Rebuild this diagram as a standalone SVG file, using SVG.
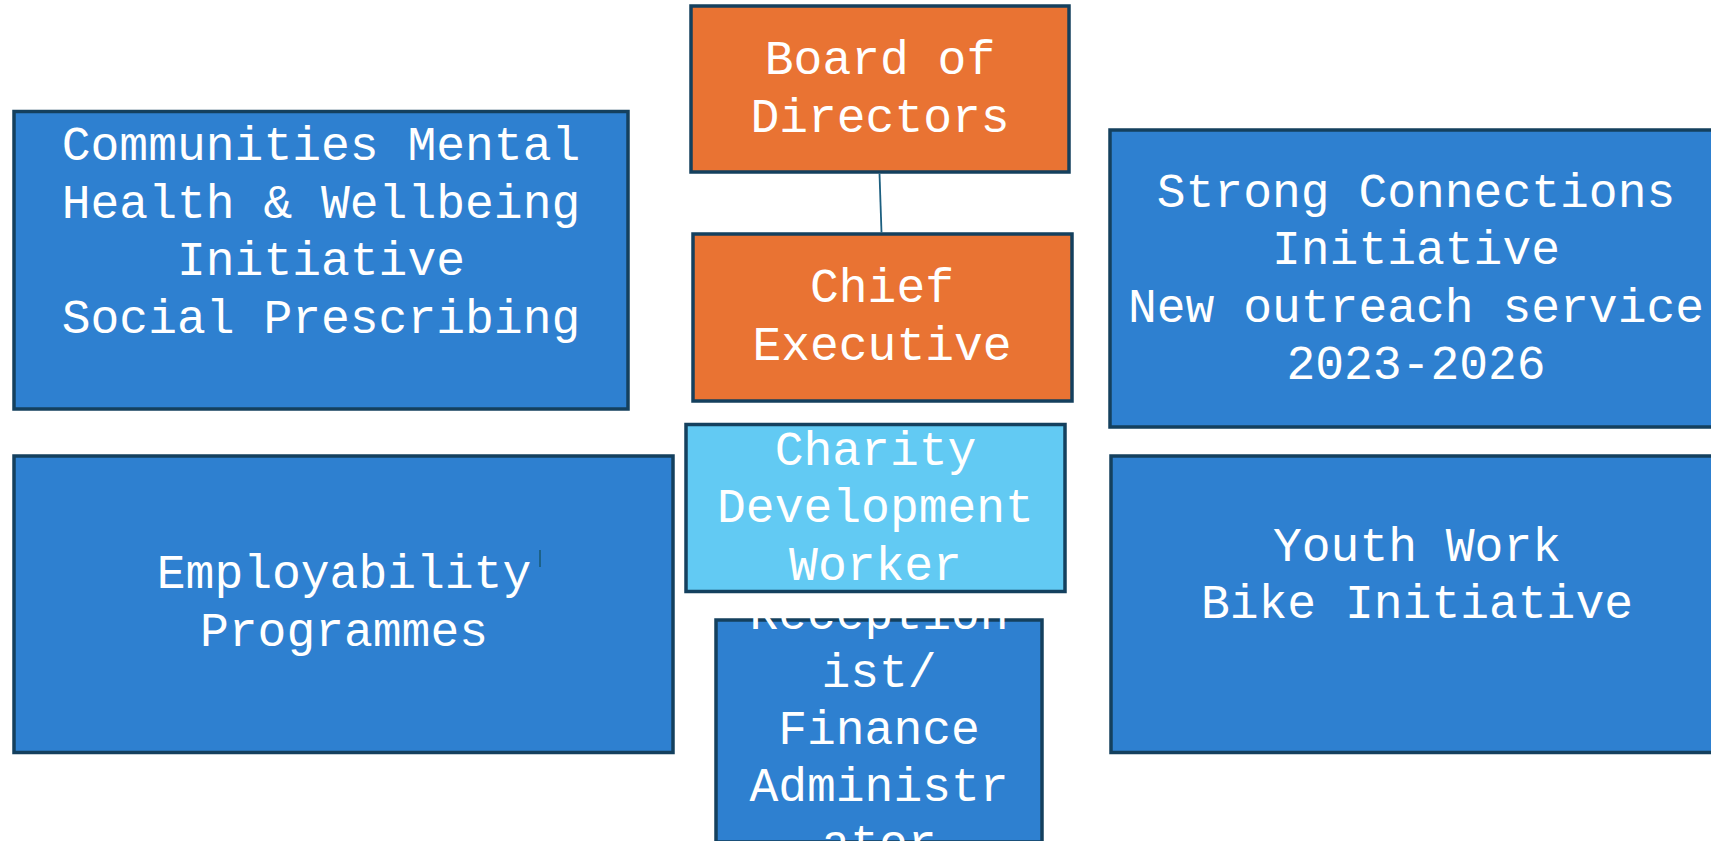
<svg xmlns="http://www.w3.org/2000/svg" width="1711" height="841" viewBox="0 0 1711 841">
<style>
.box{stroke:#14405e;stroke-width:3.5}
.blue{fill:#2e80d0}
.orange{fill:#e97333}
.light{fill:#62caf3}
text{font-family:"Liberation Mono","Courier New",monospace;font-size:48px;fill:#ffffff;text-anchor:middle}
.conn{stroke:#1c5f80;stroke-width:1.8;fill:none}
</style>
<rect width="1711" height="841" fill="#ffffff"/>
<g id="board">
<rect class="box orange" x="691" y="6" width="378" height="166"/>
<text x="880" y="73.5">Board of</text>
<text x="880" y="131.5">Directors</text>
</g>
<g id="chief">
<rect class="box orange" x="693" y="234" width="379" height="167"/>
<text x="882" y="302">Chief</text>
<text x="882" y="359.5">Executive</text>
</g>
<g id="communities">
<rect class="box blue" x="14" y="111.5" width="614" height="297.5"/>
<text x="321" y="160">Communities Mental</text>
<text x="321" y="217.5">Health &amp; Wellbeing</text>
<text x="321" y="275">Initiative</text>
<text x="321" y="332.5">Social Prescribing</text>
</g>
<g id="strong">
<rect class="box blue" x="1110" y="130" width="612" height="297"/>
<text x="1416" y="206.5">Strong Connections</text>
<text x="1416" y="264">Initiative</text>
<text x="1416" y="322">New outreach service</text>
<text x="1416" y="379">2023-2026</text>
</g>
<g id="employability">
<rect class="box blue" x="14" y="456" width="659" height="296.5"/>
<text x="344" y="588">Employability</text>
<text x="344" y="646">Programmes</text>
</g>
<g id="charity">
<rect class="box light" x="686" y="424.5" width="379" height="167"/>
<text x="875.5" y="464.5">Charity</text>
<text x="875.5" y="522">Development</text>
<text x="875.5" y="579.5">Worker</text>
</g>
<g id="youth">
<rect class="box blue" x="1111" y="456" width="612" height="296.5"/>
<text x="1417" y="560.5">Youth Work</text>
<text x="1417" y="618">Bike Initiative</text>
</g>
<g id="receptionist">
<rect class="box blue" x="716" y="620" width="326" height="222"/>
<text x="879" y="629">Reception</text>
<text x="879" y="686.5">ist/</text>
<text x="879" y="743.5">Finance</text>
<text x="879" y="800.5">Administr</text>
<text x="879" y="858">ator</text>
</g>
<g id="connectors">
<line class="conn" x1="879.5" y1="173.5" x2="881.5" y2="232.5"/>
<line class="conn" x1="540" y1="550" x2="540" y2="567" stroke-width="2"/>
</g>
</svg>
